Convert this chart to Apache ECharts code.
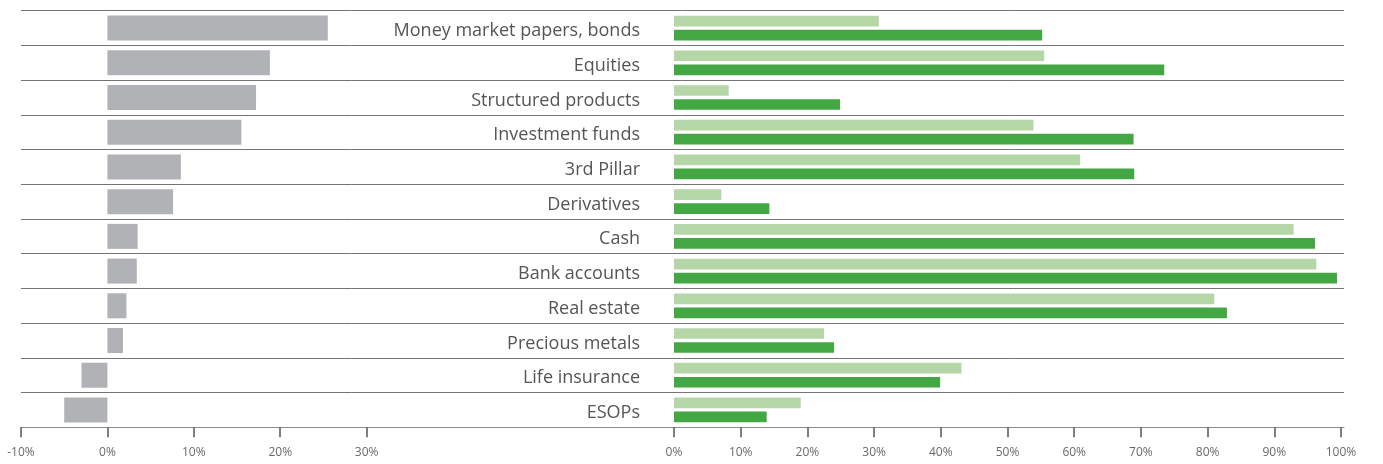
<!DOCTYPE html>
<html>
<head>
<meta charset="utf-8">
<script src="https://cdn.jsdelivr.net/npm/echarts@6/dist/echarts.min.js"></script>
<style>
  html, body { margin: 0; padding: 0; background: #fff; }
  #chart { width: 1383px; height: 464px; }
</style>
</head>
<body>
<div id="chart"></div>
<script>
// Asset classes, top to bottom
const categories = [
  'Money market papers, bonds', 'Equities', 'Structured products', 'Investment funds',
  '3rd Pillar', 'Derivatives', 'Cash', 'Bank accounts', 'Real estate',
  'Precious metals', 'Life insurance', 'ESOPs'
];

// Change in percentage points (grey bars, left panel)
const changeValues = [25.5, 18.8, 17.2, 15.5, 8.5, 7.6, 3.5, 3.4, 2.2, 1.8, -3.0, -5.0];

// Share of holders, earlier survey (light green) and latest survey (dark green)
const shareEarlier = [30.7, 55.5, 8.2, 53.9, 60.9, 7.1, 92.9, 96.3, 81.0, 22.5, 43.1, 19.0];
const shareLatest  = [55.2, 73.5, 24.9, 68.9, 69.0, 14.3, 96.1, 99.4, 82.9, 24.0, 39.9, 13.9];

// Tick values of both panels
const leftTicks = [-10, 0, 10, 20, 30];
const rightTicks = [0, 10, 20, 30, 40, 50, 60, 70, 80, 90, 100];

const FONT = '"Open Sans", Roboto, sans-serif';
const TICK_COLOR = '#555555';
const chart = echarts.init(document.getElementById('chart'), null, { renderer: 'canvas' });

chart.setOption({
  animation: false,
  backgroundColor: '#ffffff',
  grid: [
    { left: 21, right: 39, top: 10.7, bottom: 36.7, outerBoundsMode: 'none' },
    { left: 674, right: 42, top: 10.7, bottom: 36.7, outerBoundsMode: 'none' }
  ],
  xAxis: [
    {
      gridIndex: 0, type: 'value', min: -10, max: 143.1,
      axisLine: { show: true, onZero: false, lineStyle: { color: '#8c8c8c', width: 1 } },
      axisTick: { show: true, inside: false, customValues: leftTicks, length: 10, lineStyle: { color: TICK_COLOR, width: 1.5 } },
      axisLabel: {
        show: true, customValues: leftTicks, formatter: '{value}%',
        color: '#6a6a6a', fontSize: 12, fontFamily: FONT, margin: 19
      },
      splitLine: { show: false }
    },
    {
      gridIndex: 1, type: 'value', min: 0, max: 100,
      axisLine: { show: true, onZero: false, lineStyle: { color: '#8c8c8c', width: 1 } },
      axisTick: { show: true, inside: false, customValues: rightTicks, length: 10, lineStyle: { color: TICK_COLOR, width: 1.5 } },
      axisLabel: {
        show: true, customValues: rightTicks, formatter: '{value}%', color: '#6a6a6a', fontSize: 12,
        fontFamily: FONT, margin: 19
      },
      splitLine: { show: false }
    }
  ],
  yAxis: [
    {
      gridIndex: 0, type: 'category', data: categories, inverse: true,
      axisLine: { show: false }, axisTick: { show: false }, axisLabel: { show: false },
      splitLine: { show: true, lineStyle: { color: '#747474', width: 1 } }
    },
    {
      gridIndex: 1, type: 'category', data: categories, inverse: true,
      axisLine: { show: false }, axisTick: { show: false },
      axisLabel: {
        show: true, margin: 34,
        formatter: '{c|{value}}',
        rich: {
          c: { color: '#555555', fontSize: 18, fontFamily: FONT, padding: [6, 0, 0, 0] }
        }
      },
      splitLine: { show: false }
    }
  ],
  series: [
    {
      name: 'Change', type: 'bar', xAxisIndex: 0, yAxisIndex: 0,
      data: changeValues, barWidth: 25,
      itemStyle: { color: '#b1b2b6' }
    },
    {
      name: 'Earlier survey', type: 'bar', xAxisIndex: 1, yAxisIndex: 1,
      data: shareEarlier, barWidth: 10.7, barGap: '31%',
      itemStyle: { color: '#b5d6a7' }
    },
    {
      name: 'Latest survey', type: 'bar', xAxisIndex: 1, yAxisIndex: 1,
      data: shareLatest, barWidth: 10.7, barGap: '31%',
      itemStyle: { color: '#43a843' }
    }
  ]
});
</script>
</body>
</html>
